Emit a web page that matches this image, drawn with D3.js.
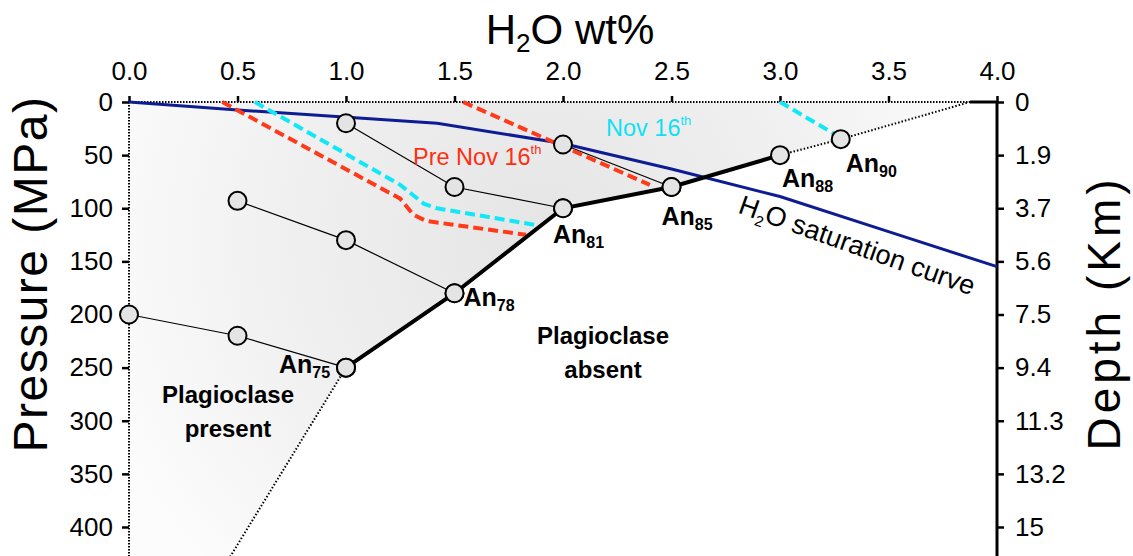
<!DOCTYPE html>
<html>
<head>
<meta charset="utf-8">
<script src="https://cdn.jsdelivr.net/npm/d3@7"></script>
<style>
  body { margin: 0; background: #fff; }
  svg { display: block; font-family: "Liberation Sans", Arial, sans-serif; }
</style>
</head>
<body>
<svg width="1133" height="556"></svg>
<script>
// axis ticks
var waterTicks = [0, 0.5, 1, 1.5, 2, 2.5, 3, 3.5, 4];
var pressureTicks = [0, 50, 100, 150, 200, 250, 300, 350, 400];
var depthLabels = ["0", "1.9", "3.7", "5.6", "7.5", "9.4", "11.3", "13.2", "15"];

// H2O saturation curve
var satWater = [0, 0.5, 1.42, 2.0, 2.5, 3.0, 3.5, 4.0];
var satPressure = [0, 7.5, 20, 39, 63, 89, 122, 155];

// plagioclase-in curve (An content labels)
var anValue = [75, 78, 81, 85, 88, 90];
var anWater = [1.0, 1.5, 2.0, 2.5, 3.0, 3.28];
var anPressure = [250, 180, 100, 80, 50, 35];

// thin tie lines
var tie1Water = [0.0, 0.5, 1.0], tie1Pressure = [200, 220, 250];
var tie2Water = [0.5, 1.0, 1.5], tie2Pressure = [93, 130, 180];
var tie3Water = [1.0, 1.5, 2.0], tie3Pressure = [20, 80, 100];
var tie4Water = [2.0, 2.5], tie4Pressure = [40, 80];

// Pre Nov 16th (red dashed)
var pre1Water = [0.43, 1.25, 1.31, 1.37, 1.83], pre1Pressure = [0, 91, 106, 112, 125];
var pre2Water = [1.54, 2.40], pre2Pressure = [0, 78];
// Nov 16th (cyan dashed)
var nov1Water = [0.58, 1.25, 1.36, 1.42, 1.88], nov1Pressure = [0, 78, 96, 100, 116];
var nov2Water = [3.0, 3.25], nov2Pressure = [0, 30];

// dotted extrapolations of the boundary
var dotTopWater = [3.0, 3.28, 3.875], dotTopPressure = [50, 35, 0];
var dotLowWater = [1.0, 0.4], dotLowPressure = [250, 450];

var svg = d3.select("svg");
var x = d3.scaleLinear().domain([0, 4]).range([129, 997]);
var y = d3.scaleLinear().domain([0, 400]).range([102, 527]);

function pts(ws, ps) { return ws.map(function(w, i) { return [w, ps[i]]; }); }
var line = d3.line().x(d => x(d[0])).y(d => y(d[1]));

// shaded field
var grad = svg.append("defs").append("radialGradient")
    .attr("id", "shade").attr("gradientUnits", "userSpaceOnUse")
    .attr("cx", 540).attr("cy", 240).attr("r", 470);
grad.append("stop").attr("offset", 0).attr("stop-color", "#e5e5e5");
grad.append("stop").attr("offset", 0.55).attr("stop-color", "#f0f0f0");
grad.append("stop").attr("offset", 1).attr("stop-color", "#fcfcfc");

var field = [[0, 0], [3.875, 0], [3.28, 35]]
    .concat(pts(anWater.slice(0, 5), anPressure.slice(0, 5)).reverse())
    .concat([[0.4, 450], [0, 450]]);
svg.append("path").attr("d", line(field) + "Z").attr("fill", "url(#shade)");

// frame
svg.append("path").attr("d", line([[0, 0], [3.875, 0]]))
    .attr("stroke", "#000").attr("stroke-width", 2).attr("stroke-dasharray", "1.5,1.5").attr("fill", "none");
svg.append("path").attr("d", line([[3.875, 0], [4, 0]]))
    .attr("stroke", "#000").attr("stroke-width", 3).attr("fill", "none");
svg.append("path").attr("d", line([[0, 0], [0, 430]]))
    .attr("stroke", "#000").attr("stroke-width", 2).attr("stroke-dasharray", "1.5,1.5").attr("fill", "none");
svg.append("path").attr("d", line([[4, 0], [4, 430]]))
    .attr("stroke", "#000").attr("stroke-width", 3).attr("fill", "none");

// axes
var xAxisG = svg.append("g").attr("transform", "translate(0," + y(0) + ")")
    .call(d3.axisTop(x).tickValues(waterTicks).tickFormat(d3.format(".1f")).tickSize(6).tickPadding(16));
var pAxisG = svg.append("g").attr("transform", "translate(" + x(0) + ",0)")
    .call(d3.axisLeft(y).tickValues(pressureTicks).tickSize(7).tickPadding(9));
var dAxisG = svg.append("g").attr("transform", "translate(" + x(4) + ",0)")
    .call(d3.axisRight(y).tickValues(pressureTicks).tickFormat((d, i) => depthLabels[i]).tickSize(7).tickPadding(11));
[xAxisG, pAxisG, dAxisG].forEach(function(g) {
  g.select(".domain").remove();
  g.selectAll("line").attr("stroke", "#000").attr("stroke-width", 2.5);
  g.selectAll("text").attr("font-size", 26).attr("fill", "#000").attr("font-family", "Liberation Sans, Arial, sans-serif");
});

// titles
var t = svg.append("text").attr("x", 570).attr("y", 44).attr("text-anchor", "middle")
    .attr("font-size", 42);
t.append("tspan").text("H");
t.append("tspan").attr("font-size", 26).attr("dy", 8).text("2");
t.append("tspan").attr("dy", -8).text("O wt%");

svg.append("text").attr("transform", "translate(47,274) rotate(-90)").attr("text-anchor", "middle")
    .attr("font-size", 48).attr("letter-spacing", 1.5).text("Pressure (MPa)");
svg.append("text").attr("transform", "translate(1120,313) rotate(-90)").attr("text-anchor", "middle")
    .attr("font-size", 46).attr("letter-spacing", 4).text("Depth (Km)");

// saturation curve
svg.append("path").attr("d", line(pts(satWater, satPressure)))
    .attr("fill", "none").attr("stroke", "#0d1c92").attr("stroke-width", 3);

// tie lines
[[tie1Water, tie1Pressure], [tie2Water, tie2Pressure], [tie3Water, tie3Pressure], [tie4Water, tie4Pressure]]
  .forEach(function(s) {
    svg.append("path").attr("d", line(pts(s[0], s[1])))
        .attr("fill", "none").attr("stroke", "#000").attr("stroke-width", 1.2);
  });

// dashed melt-inclusion paths
[[pre1Water, pre1Pressure, "#ff3a1a"], [pre2Water, pre2Pressure, "#ff3a1a"],
 [nov1Water, nov1Pressure, "#10e8f8"], [nov2Water, nov2Pressure, "#10e8f8"]]
  .forEach(function(s) {
    svg.append("path").attr("d", line(pts(s[0], s[1])))
        .attr("fill", "none").attr("stroke", s[2]).attr("stroke-width", 4)
        .attr("stroke-dasharray", "10,5");
  });

// boundary
svg.append("path").attr("d", line(pts(dotTopWater, dotTopPressure)))
    .attr("fill", "none").attr("stroke", "#000").attr("stroke-width", 2).attr("stroke-dasharray", "1.5,2");
svg.append("path").attr("d", line(pts(dotLowWater, dotLowPressure)))
    .attr("fill", "none").attr("stroke", "#000").attr("stroke-width", 2).attr("stroke-dasharray", "1.5,2");
svg.append("path").attr("d", line(pts(anWater.slice(0, 5), anPressure.slice(0, 5))))
    .attr("fill", "none").attr("stroke", "#000").attr("stroke-width", 4);

// circles
var allPts = pts(tie1Water, tie1Pressure).concat(pts(tie2Water, tie2Pressure), pts(tie3Water, tie3Pressure),
    pts(tie4Water, tie4Pressure), pts(anWater, anPressure));
svg.selectAll("circle.pt").data(allPts).join("circle").attr("class", "pt")
    .attr("cx", d => x(d[0])).attr("cy", d => y(d[1])).attr("r", 9)
    .attr("fill", "#e4e4e4").attr("stroke", "#000").attr("stroke-width", 2);

// An labels
var anOffset = [[-67, 5], [9, 13], [-10, 35], [-10, 38], [2, 32], [5, 33]];
anValue.forEach(function(v, i) {
  var lab = svg.append("text").attr("x", x(anWater[i]) + anOffset[i][0]).attr("y", y(anPressure[i]) + anOffset[i][1])
      .attr("font-size", 25).attr("font-weight", "bold");
  lab.append("tspan").text("An");
  lab.append("tspan").attr("font-size", 16).attr("dy", 5).text(v);
});

// annotations
function ann(px, py, txt, color) {
  var a = svg.append("text").attr("x", px).attr("y", py).attr("font-size", 23.5).attr("fill", color);
  a.append("tspan").text(txt);
  a.append("tspan").attr("font-size", 13).attr("dy", -11).text("th");
}
ann(606, 136, "Nov 16", "#10e0f5");
ann(413, 165, "Pre Nov 16", "#ff2e10");

var sat = svg.append("text").attr("transform", "translate(" + (x(3) - 43) + "," + (y(89) + 16) + ") rotate(19.5)")
    .attr("font-size", 27).attr("fill", "#000");
sat.append("tspan").text("H");
sat.append("tspan").attr("font-size", 15).attr("dy", 6).text("2");
sat.append("tspan").attr("dy", -6).text("O saturation curve");

function block(cx, cy, lines) {
  lines.forEach(function(l, i) {
    svg.append("text").attr("x", cx).attr("y", cy + i * 34).attr("text-anchor", "middle")
        .attr("font-size", 24).attr("font-weight", "bold").text(l);
  });
}
block(228, 403, ["Plagioclase", "present"]);
block(603, 344, ["Plagioclase", "absent"]);
</script>
</body>
</html>
